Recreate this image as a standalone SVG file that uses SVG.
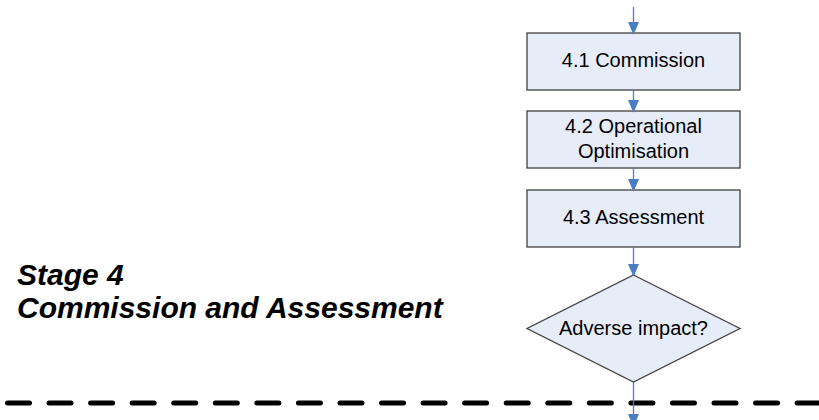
<svg xmlns="http://www.w3.org/2000/svg" width="819" height="420" viewBox="0 0 819 420">
<defs>
<marker id="ah" markerWidth="13" markerHeight="15" refX="13" refY="6.5" orient="auto" markerUnits="userSpaceOnUse" viewBox="0 0 15 13">
<path d="M0,0 L15,6.5 L0,13 Z" fill="#4A7EC4"/>
</marker>
<style>
.box{fill:#E6ECF8;stroke:#404040;stroke-width:1.3}
.t{font-family:"Liberation Sans",Arial,sans-serif;font-size:20px;fill:#000;text-anchor:middle}
.h{font-family:"Liberation Sans",Arial,sans-serif;font-size:30px;font-weight:bold;font-style:italic;fill:#000}
.c{stroke:#4A7EC4;stroke-width:1.3;fill:none}
</style>
</defs>
<rect width="819" height="420" fill="#fff"/>
<line x1="2" y1="403" x2="819" y2="403" stroke="#000" stroke-width="5" stroke-linecap="round" stroke-dasharray="22 19.56" stroke-dashoffset="-5.5"/>
<g id="n41"><rect class="box" x="527" y="33" width="213" height="57"/><text class="t" x="633.5" y="67">4.1 Commission</text></g>
<g id="n42"><rect class="box" x="527" y="111" width="213" height="57"/><text class="t" x="633.5" y="132.5">4.2 Operational</text><text class="t" x="633.5" y="157.5">Optimisation</text></g>
<g id="n43"><rect class="box" x="527" y="190" width="213" height="57"/><text class="t" x="633.5" y="223.5">4.3 Assessment</text></g>
<g id="d1"><polygon class="box" points="633.5,275 740,328.5 633.5,382 527,328.5"/><text class="t" x="633.5" y="335">Adverse impact?</text></g>
<g id="title"><text class="h" x="17" y="285">Stage 4</text><text class="h" x="17" y="318">Commission and Assessment</text></g>
<g id="connectors">
<line class="c" x1="633.5" y1="7" x2="633.5" y2="33" marker-end="url(#ah)"/>
<line class="c" x1="633.5" y1="90" x2="633.5" y2="111" marker-end="url(#ah)"/>
<line class="c" x1="633.5" y1="168" x2="633.5" y2="190" marker-end="url(#ah)"/>
<line class="c" x1="633.5" y1="247" x2="633.5" y2="275" marker-end="url(#ah)"/>
<line class="c" x1="633.5" y1="382" x2="633.5" y2="425" marker-end="url(#ah)"/>
</g>
</svg>
